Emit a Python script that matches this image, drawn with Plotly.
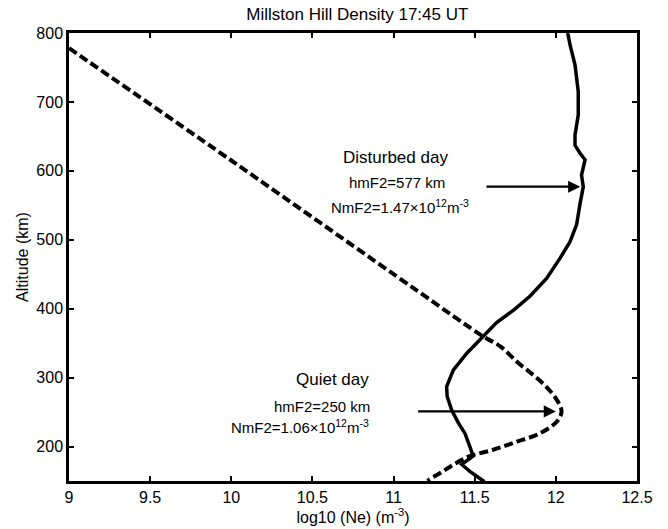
import plotly.graph_objects as go

# Quiet day profile (dashed)
quiet_ne = [9.0, 10.0, 11.14, 11.55, 11.66, 11.76, 11.86, 11.94, 12.005, 12.035,
            12.005, 11.90, 11.76, 11.61, 11.47, 11.37, 11.29, 11.22, 11.21]
quiet_alt = [778, 615, 427, 360, 345, 323, 304, 287, 268, 251,
             236, 219, 207, 195, 186, 174, 162, 152, 150]

# Disturbed day profile (solid)
dist_ne = [12.07, 12.076, 12.087, 12.118, 12.138, 12.14, 12.138, 12.118, 12.118, 12.148,
           12.18, 12.158, 12.169, 12.148, 12.128, 12.087, 12.025, 11.943, 11.84, 11.74,
           11.635, 11.553, 11.45, 11.368, 11.327, 11.33, 11.358, 11.40, 11.44, 11.47,
           11.49, 11.42, 11.47, 11.53, 11.56]
dist_alt = [800, 797, 783, 754, 715, 690, 681, 652, 637, 626,
            616, 594, 577, 551, 522, 497, 473, 444, 418, 398,
            380, 360, 335, 311, 287, 273, 253, 234, 219, 200,
            186, 174, 164, 154, 149]

x_ticks = [9, 9.5, 10, 10.5, 11, 11.5, 12, 12.5]
x_tick_text = ["9", "9.5", "10", "10.5", "11", "11.5", "12", "12.5"]
y_ticks = [200, 300, 400, 500, 600, 700, 800]

FONT = "Liberation Sans, Arial, sans-serif"

fig = go.Figure()
fig.add_trace(go.Scatter(x=quiet_ne, y=quiet_alt, mode="lines",
                         line=dict(color="black", width=4, dash="9px,4px", shape="spline"),
                         showlegend=False))
fig.add_trace(go.Scatter(x=dist_ne, y=dist_alt, mode="lines",
                         line=dict(color="black", width=3.5),
                         showlegend=False))

ann = []
# arrows
ann.append(dict(x=12.15, y=577, ax=11.563, ay=577, xref="x", yref="y", axref="x", ayref="y",
                showarrow=True, arrowhead=2, arrowsize=1.1, arrowwidth=2.2, arrowcolor="black", text=""))
ann.append(dict(x=12.0, y=251, ax=11.142, ay=251, xref="x", yref="y", axref="x", ayref="y",
                showarrow=True, arrowhead=2, arrowsize=1.1, arrowwidth=2.2, arrowcolor="black", text=""))
# texts
txt = [
    ("Disturbed day", 11.01, 619, "center", 17),
    ("hmF2=577 km", 11.02, 583, "center", 15),
    ("NmF2=1.47×10<sup>12</sup>m<sup>-3</sup>", 11.04, 549, "center", 15),
    ("Quiet day", 10.86, 297, "right", 17),
    ("hmF2=250 km", 10.87, 258, "right", 15),
    ("NmF2=1.06×10<sup>12</sup>m<sup>-3</sup>", 10.86, 229, "right", 15),
]
for t, x, y, xa, fs in txt:
    ann.append(dict(text=t, x=x, y=y, xref="x", yref="y", xanchor=xa, yanchor="middle",
                    showarrow=False, font=dict(family=FONT, size=fs, color="black")))

fig.update_layout(
    width=668, height=529,
    margin=dict(l=69, r=31, t=33, b=48),
    paper_bgcolor="white", plot_bgcolor="white",
    font=dict(family=FONT, color="black", size=16),
    title=dict(text="Millston Hill Density 17:45 UT", x=0.535, xanchor="center",
               y=1 - 14 / 529, yanchor="middle", font=dict(size=17)),
    annotations=ann,
    xaxis=dict(range=[9, 12.5], tickvals=x_ticks, ticktext=x_tick_text,
               showline=True, linecolor="black", linewidth=2.5, mirror="ticks",
               ticks="inside", ticklen=5, tickwidth=1.5, tickcolor="black",
               showgrid=False, zeroline=False, tickfont=dict(size=16),
               title=dict(text="log10 (Ne) (m<sup>-3</sup>)", standoff=0, font=dict(size=16))),
    yaxis=dict(range=[150, 800], tickvals=y_ticks,
               showline=True, linecolor="black", linewidth=2.5, mirror="ticks",
               ticks="inside", ticklen=5, tickwidth=1.5, tickcolor="black",
               showgrid=False, zeroline=False, tickfont=dict(size=16),
               title=dict(text="Altitude (km)", standoff=4, font=dict(size=16))),
)

fig.write_html("out.html")
